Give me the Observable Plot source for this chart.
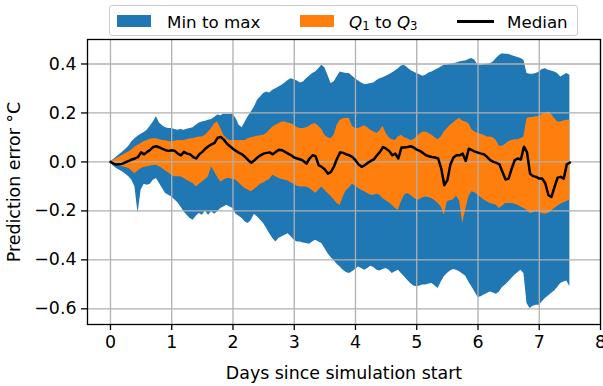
<!DOCTYPE html>
<html><head><meta charset="utf-8">
<script src="https://cdn.jsdelivr.net/npm/d3@7"></script>
<script src="https://cdn.jsdelivr.net/npm/@observablehq/plot@0.6"></script>
<style>
body{margin:0;background:#fff;}
#wrap{position:relative;width:603px;height:386px;font-family:"DejaVu Sans",sans-serif;}
.leg{position:absolute;left:109px;top:5px;width:467px;height:29px;border:1px solid #cccccc;border-radius:3px;background:rgba(255,255,255,0.8);}
.t{position:absolute;font-size:16.7px;line-height:16.7px;white-space:nowrap;color:#000;top:7.6px;}
.sw{position:absolute;top:9px;width:34px;height:12px;}
.sub{font-size:0.7em;position:relative;top:0.22em;}
</style></head><body><div id="wrap"></div>
<script>
const days = [0,0.05,0.1,0.15,0.2,0.25,0.3,0.35,0.4,0.45,0.5,0.55,0.6,0.65,0.7,0.75,0.8,0.85,0.9,0.95,
1,1.05,1.1,1.15,1.2,1.25,1.3,1.35,1.4,1.45,1.5,1.55,1.6,1.65,1.7,1.75,1.8,1.85,1.9,1.95,
2,2.05,2.1,2.15,2.2,2.25,2.3,2.35,2.4,2.45,2.5,2.55,2.6,2.65,2.7,2.75,2.8,2.85,2.9,2.95,
3,3.05,3.1,3.15,3.2,3.25,3.3,3.35,3.4,3.45,3.5,3.55,3.6,3.65,3.7,3.75,3.8,3.85,3.9,3.95,
4,4.05,4.1,4.15,4.2,4.25,4.3,4.35,4.4,4.45,4.5,4.55,4.6,4.65,4.7,4.75,4.8,4.85,4.9,4.95,
5,5.05,5.1,5.15,5.2,5.25,5.3,5.35,5.4,5.45,5.5,5.55,5.6,5.65,5.7,5.75,5.8,5.85,5.9,5.95,
6,6.05,6.1,6.15,6.2,6.25,6.3,6.35,6.4,6.45,6.5,6.55,6.6,6.65,6.7,6.75,6.8,6.85,6.9,6.95,
7,7.05,7.1,7.15,7.2,7.25,7.3,7.35,7.4,7.45,7.5];

const maxV = [0,0.01,0.02,0.03,0.041,0.052,0.064,0.082,0.095,0.105,
0.113,0.12,0.129,0.146,0.163,0.184,0.159,0.148,0.14,0.137,
0.136,0.132,0.129,0.132,0.129,0.133,0.136,0.14,0.15,0.159,
0.163,0.166,0.17,0.173,0.181,0.192,0.189,0.195,0.195,0.195,
0.195,0.177,0.15,0.14,0.163,0.186,0.204,0.224,0.252,0.265,
0.279,0.286,0.282,0.293,0.299,0.306,0.313,0.322,0.333,0.34,
0.336,0.331,0.322,0.326,0.34,0.35,0.361,0.367,0.381,0.395,
0.385,0.354,0.32,0.326,0.347,0.367,0.364,0.361,0.361,0.35,
0.34,0.331,0.322,0.316,0.317,0.32,0.322,0.333,0.34,0.344,
0.35,0.356,0.363,0.371,0.381,0.392,0.395,0.385,0.374,0.367,
0.361,0.356,0.35,0.354,0.363,0.367,0.374,0.381,0.388,0.395,
0.396,0.399,0.401,0.404,0.408,0.411,0.412,0.418,0.422,0.415,
0.395,0.395,0.397,0.399,0.401,0.408,0.422,0.435,0.442,0.44,
0.44,0.435,0.431,0.426,0.422,0.415,0.361,0.358,0.358,0.361,
0.367,0.377,0.381,0.374,0.371,0.367,0.361,0.347,0.354,0.361,
0.354];

const minV = [0,-0.018,-0.027,-0.034,-0.041,-0.05,-0.061,-0.075,-0.102,-0.211,
-0.116,-0.091,-0.095,-0.091,-0.075,-0.068,-0.088,-0.109,-0.129,-0.136,
-0.143,-0.154,-0.167,-0.184,-0.204,-0.218,-0.231,-0.238,-0.222,-0.211,
-0.218,-0.2,-0.218,-0.204,-0.214,-0.204,-0.19,-0.184,-0.177,-0.184,
-0.19,-0.214,-0.222,-0.231,-0.245,-0.252,-0.238,-0.214,-0.224,-0.238,
-0.252,-0.272,-0.293,-0.313,-0.327,-0.313,-0.306,-0.299,-0.293,-0.306,
-0.32,-0.327,-0.327,-0.331,-0.333,-0.336,-0.327,-0.32,-0.327,-0.333,
-0.354,-0.374,-0.39,-0.404,-0.418,-0.429,-0.442,-0.452,-0.456,-0.449,
-0.439,-0.429,-0.435,-0.442,-0.435,-0.426,-0.431,-0.442,-0.445,-0.439,
-0.435,-0.442,-0.456,-0.449,-0.442,-0.456,-0.469,-0.483,-0.497,-0.507,
-0.51,-0.507,-0.503,-0.503,-0.499,-0.497,-0.507,-0.517,-0.49,-0.469,
-0.456,-0.445,-0.439,-0.442,-0.449,-0.458,-0.467,-0.49,-0.51,-0.531,
-0.554,-0.551,-0.544,-0.537,-0.531,-0.535,-0.54,-0.531,-0.513,-0.503,
-0.49,-0.476,-0.463,-0.453,-0.442,-0.456,-0.578,-0.599,-0.589,-0.585,
-0.585,-0.571,-0.558,-0.548,-0.537,-0.527,-0.513,-0.497,-0.49,-0.486,
-0.51];

const q3V = [0,0.007,0.014,0.02,0.027,0.034,0.041,0.05,0.061,0.068,
0.075,0.082,0.088,0.093,0.095,0.095,0.091,0.088,0.086,0.083,
0.082,0.084,0.088,0.086,0.088,0.091,0.095,0.095,0.099,0.102,
0.102,0.109,0.122,0.136,0.156,0.163,0.136,0.109,0.095,0.088,
0.088,0.088,0.086,0.088,0.088,0.095,0.099,0.102,0.105,0.107,
0.109,0.116,0.129,0.143,0.15,0.156,0.163,0.163,0.159,0.156,
0.15,0.14,0.136,0.136,0.14,0.146,0.154,0.156,0.146,0.132,
0.109,0.099,0.095,0.109,0.15,0.17,0.176,0.178,0.177,0.146,
0.136,0.136,0.143,0.148,0.14,0.129,0.122,0.116,0.127,0.146,
0.116,0.099,0.091,0.088,0.102,0.109,0.099,0.095,0.088,0.091,
0.102,0.113,0.121,0.122,0.116,0.109,0.099,0.091,0.102,0.122,
0.136,0.15,0.159,0.17,0.177,0.167,0.163,0.156,0.132,0.122,
0.116,0.113,0.109,0.102,0.102,0.099,0.088,0.064,0.064,0.072,
0.082,0.088,0.091,0.091,0.095,0.102,0.177,0.181,0.181,0.184,
0.186,0.195,0.2,0.204,0.195,0.177,0.163,0.163,0.167,0.17,
0.17];

const q1V = [0,-0.01,-0.015,-0.018,-0.02,-0.023,-0.027,-0.037,-0.048,-0.037,
-0.027,-0.023,-0.02,-0.018,-0.015,-0.014,-0.02,-0.027,-0.037,-0.045,
-0.054,-0.061,-0.061,-0.061,-0.068,-0.075,-0.082,-0.088,-0.102,-0.091,
-0.082,-0.072,-0.061,-0.02,-0.041,-0.064,-0.082,-0.075,-0.068,-0.068,
-0.072,-0.075,-0.086,-0.099,-0.109,-0.116,-0.122,-0.113,-0.102,-0.091,
-0.086,-0.078,-0.072,-0.054,-0.061,-0.068,-0.072,-0.075,-0.078,-0.086,
-0.091,-0.099,-0.102,-0.102,-0.102,-0.109,-0.118,-0.129,-0.116,-0.102,
-0.116,-0.129,-0.14,-0.154,-0.17,-0.177,-0.143,-0.118,-0.105,-0.091,
-0.099,-0.109,-0.116,-0.122,-0.129,-0.136,-0.136,-0.132,-0.136,-0.15,
-0.159,-0.167,-0.177,-0.19,-0.197,-0.163,-0.136,-0.129,-0.136,-0.146,
-0.156,-0.154,-0.146,-0.143,-0.146,-0.15,-0.159,-0.17,-0.184,-0.218,
-0.163,-0.159,-0.154,-0.14,-0.16,-0.25,-0.195,-0.143,-0.122,-0.126,
-0.136,-0.146,-0.156,-0.163,-0.17,-0.173,-0.177,-0.19,-0.181,-0.17,
-0.17,-0.17,-0.173,-0.177,-0.184,-0.19,-0.197,-0.211,-0.208,-0.204,
-0.208,-0.211,-0.214,-0.211,-0.2,-0.19,-0.181,-0.173,-0.167,-0.162,
-0.156];

const medV = [0,-0.007,-0.011,-0.01,-0.007,-0.001,0.004,0.01,0.014,0.02,
0.039,0.031,0.041,0.05,0.061,0.064,0.059,0.053,0.048,0.045,
0.048,0.045,0.034,0.027,0.041,0.034,0.031,0.02,0.014,0.031,
0.041,0.054,0.064,0.072,0.078,0.099,0.102,0.091,0.075,0.064,
0.054,0.045,0.037,0.031,0.02,0.007,-0.003,0.007,0.018,0.027,
0.034,0.037,0.039,0.031,0.041,0.05,0.048,0.041,0.034,0.027,
0.018,0.014,0.01,0.004,-0.007,0.014,0.027,0.023,-0.014,-0.02,
-0.031,-0.048,-0.041,-0.018,0.014,0.039,0.037,0.031,0.027,0.02,
0.007,-0.01,-0.02,-0.014,-0.004,0.004,0.01,0.027,0.041,0.061,
0.054,0.045,0.027,0.034,0.014,0.059,0.059,0.061,0.064,0.059,
0.05,0.045,0.037,0.027,0.023,0.02,0.018,0.014,-0.027,-0.095,
-0.075,-0.01,0.018,0.027,0.027,0.034,0.004,0.054,0.048,0.042,
0.038,0.034,0.031,0.02,0.007,0,-0.004,-0.01,-0.041,-0.072,
-0.068,-0.027,0.007,0.014,0.01,0.062,0.04,-0.048,-0.058,-0.061,
-0.068,-0.068,-0.088,-0.136,-0.143,-0.102,-0.064,-0.061,-0.068,-0.01,
-0.003];

const xTicks = [0,1,2,3,4,5,6,7,8];
const yTicks = [-0.6,-0.4,-0.2,0,0.2,0.4];
const seriesLabels = ["Min to max", "Q1 to Q3", "Median"];
const xLabel = "Days since simulation start";
const yLabel = "Prediction error °C";

const data = days.map((d, i) => ({day: d, min: minV[i], max: maxV[i], q1: q1V[i], q3: q3V[i], med: medV[i]}));

const grid = {stroke: "#b0b0b0", strokeOpacity: 1, strokeWidth: 1.3};
const chart = Plot.plot({
  width: 603, height: 386,
  marginLeft: 87, marginRight: 3, marginTop: 39, marginBottom: 62,
  style: {fontFamily: "DejaVu Sans", fontSize: "17.4px", background: "white", color: "black", overflow: "visible"},
  x: {domain: [-0.375, 8]},
  y: {domain: [-0.664, 0.5]},
  marks: [
    Plot.areaY(data, {x: "day", y1: "min", y2: "max", fill: "#1f77b4"}),
    Plot.areaY(data, {x: "day", y1: "q1", y2: "q3", fill: "#ff7f0e"}),
    Plot.gridX(xTicks, grid),
    Plot.gridY(yTicks, grid),
    Plot.lineY(data, {x: "day", y: "med", stroke: "black", strokeWidth: 2.5}),
    Plot.frame({stroke: "black", strokeWidth: 1.3}),
    Plot.axisX(xTicks, {tickSize: 6, tickPadding: 5, strokeWidth: 1.3, fontSize: 17.4, tickFormat: d => String(d),
      label: xLabel, labelAnchor: "center", labelArrow: "none", labelOffset: 54}),
    Plot.axisY(yTicks, {tickSize: 6, tickPadding: 5, strokeWidth: 1.3, fontSize: 17.4, tickFormat: d3.format(".1f"),
      label: yLabel, labelAnchor: "center", labelArrow: "none", labelOffset: 80})
  ]
});

const wrap = document.getElementById("wrap");
wrap.appendChild(chart);

const leg = document.createElement("div");
leg.className = "leg";
leg.innerHTML =
  '<div class="sw" style="left:7px;background:#1f77b4"></div>' +
  '<div class="t" style="left:57px">' + seriesLabels[0] + '</div>' +
  '<div class="sw" style="left:190px;background:#ff7f0e"></div>' +
  '<div class="t" style="left:239px"><i>Q</i><span class="sub">1</span> to <i>Q</i><span class="sub">3</span></div>' +
  '<div style="position:absolute;left:347px;top:14px;width:37px;height:2.5px;background:#000"></div>' +
  '<div class="t" style="left:397px">' + seriesLabels[2] + '</div>';
wrap.appendChild(leg);
</script>
</body></html>
